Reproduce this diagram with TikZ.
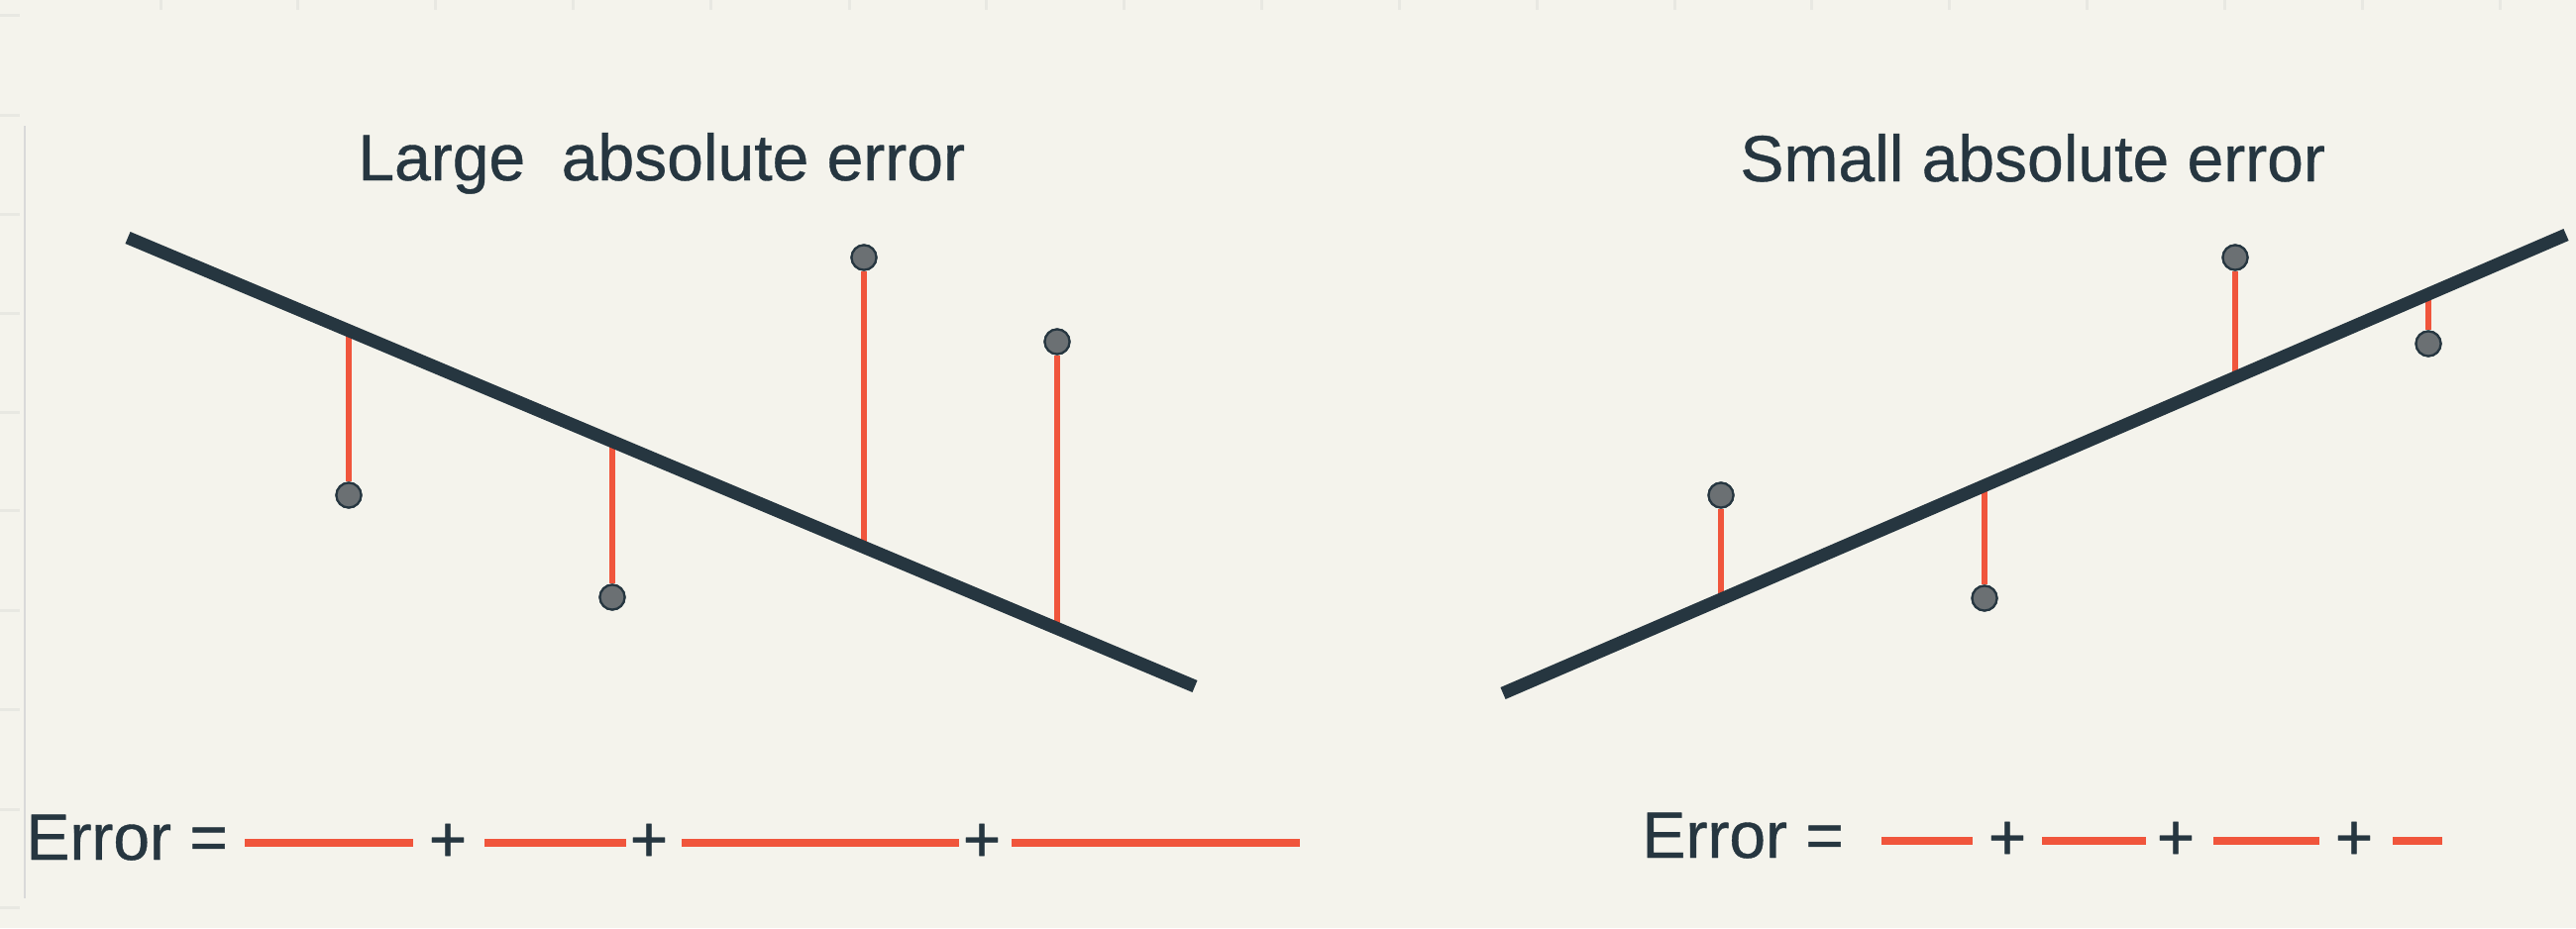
\documentclass[tikz,border=0pt]{standalone}
\usepackage{fontspec}
\setmainfont{Liberation Sans}[FakeBold=0.5]
\newfontfamily\labelfont{Liberation Sans}[FakeBold=0.6]
\definecolor{bg}{HTML}{F4F3EC}
\definecolor{ink}{HTML}{263640}
\definecolor{resid}{HTML}{F0553C}
\definecolor{dotfill}{HTML}{6B7073}
\definecolor{faint}{HTML}{E8E8E2}
\tikzset{
  fitline/.style={draw=ink, line width=6.5pt},
  residline/.style={draw=resid, line width=2.6pt},
  errseg/.style={draw=resid, line width=4.2pt},
  datadot/.style={circle, fill=dotfill, draw=ink, line width=1.1pt, minimum size=12.5pt, inner sep=0pt},
  title/.style={anchor=base west, inner sep=0pt, text=ink, font=\labelfont\fontsize{33}{36}\selectfont},
  plus/.style={anchor=base, inner sep=0pt, text=ink, font=\labelfont\fontsize{33}{36}\selectfont},
  gridtick/.style={draw=faint, line width=1.5pt}
}
\begin{document}
\begin{tikzpicture}[x=0.5pt, y=-0.5pt]
\fill[bg] (0,0) rectangle (2600,937);
\useasboundingbox (0,0) rectangle (2600,937);
% faint screenshot grid
\foreach \gx in {162,300,439,578,717,857,995,1134,1273,1412,1551,1690,1828,1967,2106,2245,2384,2523}
  \draw[gridtick] (\gx,0) -- (\gx,10);
\foreach \gy in {15,116,216,316,416,515,616,716,817,916}
  \draw[gridtick] (0,\gy) -- (20,\gy);
\draw[draw=black!15, line width=0.8pt] (25,127) -- (25,907);

% titles
\node[title] (tL) at (361,182) {Large\ \ absolute error};
\node[title] (tR) at (1756,183) {Small absolute error};

% left panel
\coordinate (L0) at (129,240);
\coordinate (L1) at (1206,693);
\coordinate (fa) at (352,333.8);
\coordinate (fb) at (618,445.7);
\coordinate (fc) at (872,552.5);
\coordinate (fd) at (1067,634.5);
\node[datadot] (pa) at (352,500) {};
\node[datadot] (pb) at (618,603) {};
\node[datadot] (pc) at (872,260) {};
\node[datadot] (pd) at (1067,345) {};
\draw[residline] (fa) -- (pa);
\draw[residline] (fb) -- (pb);
\draw[residline] (fc) -- (pc);
\draw[residline] (fd) -- (pd);
\draw[fitline] (L0) -- (L1);
\node[datadot] at (pa) {};
\node[datadot] at (pb) {};
\node[datadot] at (pc) {};
\node[datadot] at (pd) {};

% right panel
\coordinate (R0) at (1517,700);
\coordinate (R1) at (2590,237);
\coordinate (ga) at (1737,605.1);
\coordinate (gb) at (2003,490.3);
\coordinate (gc) at (2256,381.1);
\coordinate (gd) at (2451,297.0);
\node[datadot] (qa) at (1737,500) {};
\node[datadot] (qb) at (2003,604) {};
\node[datadot] (qc) at (2256,260) {};
\node[datadot] (qd) at (2451,347) {};
\draw[residline] (ga) -- (qa);
\draw[residline] (gb) -- (qb);
\draw[residline] (gc) -- (qc);
\draw[residline] (gd) -- (qd);
\draw[fitline] (R0) -- (R1);
\node[datadot] at (qa) {};
\node[datadot] at (qb) {};
\node[datadot] at (qc) {};
\node[datadot] at (qd) {};

% left error sum
\node[title] (eL) at (26,868) {Error =};
\coordinate (s1a) at (247,851); \coordinate (s1b) at (417,851);
\coordinate (s2a) at (489,851); \coordinate (s2b) at (632,851);
\coordinate (s3a) at (688,851); \coordinate (s3b) at (968,851);
\coordinate (s4a) at (1021,851); \coordinate (s4b) at (1312,851);
\draw[errseg] (s1a) -- (s1b);
\draw[errseg] (s2a) -- (s2b);
\draw[errseg] (s3a) -- (s3b);
\draw[errseg] (s4a) -- (s4b);
\node[plus] (pl1) at (452,870) {+};
\node[plus] (pl2) at (655,870) {+};
\node[plus] (pl3) at (991,870) {+};

% right error sum
\node[title] (eR) at (1657,866) {Error =};
\coordinate (r1a) at (1899,849); \coordinate (r1b) at (1991,849);
\coordinate (r2a) at (2061,849); \coordinate (r2b) at (2166,849);
\coordinate (r3a) at (2234,849); \coordinate (r3b) at (2341,849);
\coordinate (r4a) at (2415,849); \coordinate (r4b) at (2465,849);
\draw[errseg] (r1a) -- (r1b);
\draw[errseg] (r2a) -- (r2b);
\draw[errseg] (r3a) -- (r3b);
\draw[errseg] (r4a) -- (r4b);
\node[plus] (pr1) at (2026,868) {+};
\node[plus] (pr2) at (2196,868) {+};
\node[plus] (pr3) at (2376,868) {+};
\end{tikzpicture}
\end{document}
